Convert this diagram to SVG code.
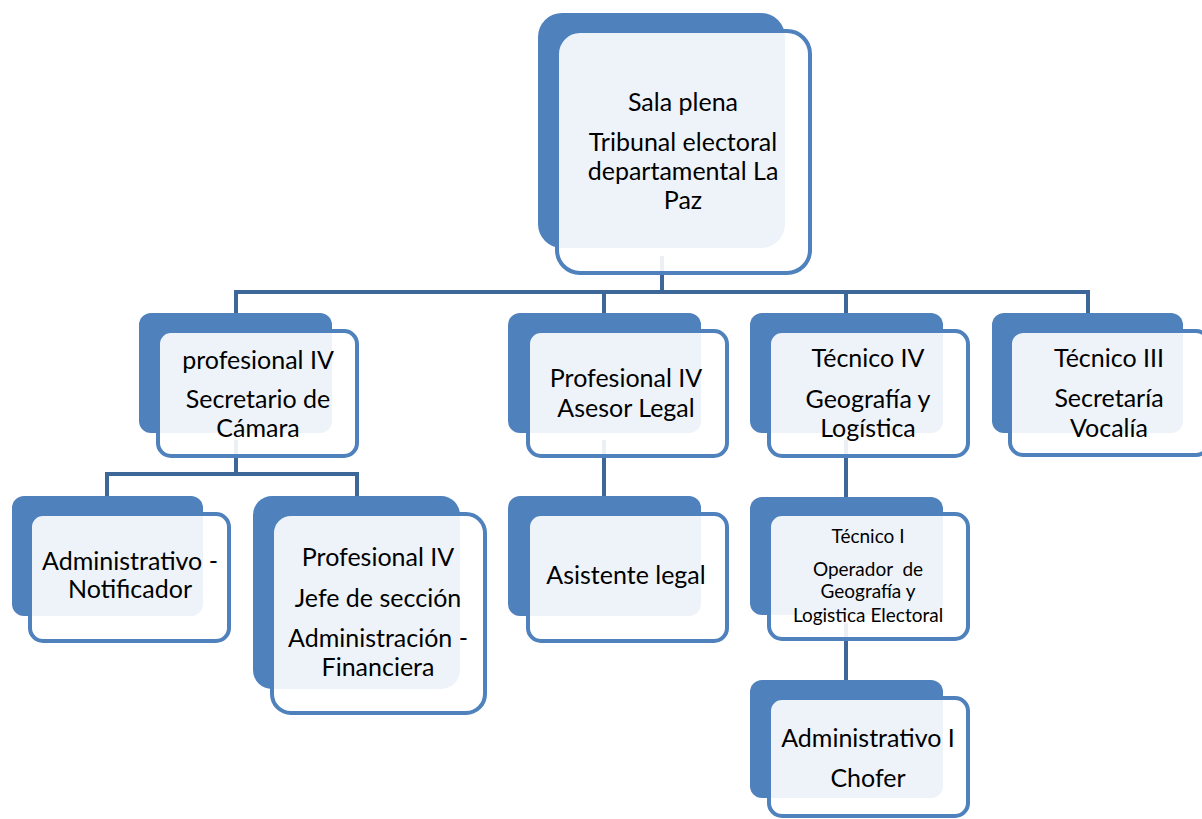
<svg xmlns="http://www.w3.org/2000/svg" width="1202" height="819" viewBox="0 0 1202 819">
<style>
.bk{fill:#4F81BD}
.fr{fill:#FFFFFF;fill-opacity:0.9;stroke:#4F81BD;stroke-width:4}
.cn{fill:none;stroke:#3E6799;stroke-width:4}
text{font-family:Lato,"Liberation Sans",sans-serif;fill:#000;text-anchor:middle}
.t{font-size:25px}
.s{font-size:19px}
</style>
<rect width="1202" height="819" fill="#FFFFFF"/>
<g id="connectors">
<path class="cn" d="M662,256 V292"/>
<path class="cn" d="M236,313 V292 H1088 V313"/>
<path class="cn" d="M604,292 V313"/>
<path class="cn" d="M846,292 V313"/>
<path class="cn" d="M236,440 V474"/>
<path class="cn" d="M107,496 V474 H357 V496"/>
<path class="cn" d="M604,440 V496"/>
<path class="cn" d="M846,440 V497"/>
<path class="cn" d="M846,623 V680"/>
</g>
<g id="n-sala">
<rect class="bk" x="538" y="13" width="247" height="235" rx="24"/>
<rect class="fr" x="557" y="31" width="253" height="242" rx="23"/>
<text class="t" x="683" y="111">Sala plena</text>
<text class="t" x="683" y="151">Tribunal electoral</text>
<text class="t" x="683" y="180">departamental La</text>
<text class="t" x="683" y="209">Paz</text>
</g>
<g id="n-secretario">
<rect class="bk" x="139" y="313" width="193" height="120" rx="12"/>
<rect class="fr" x="158" y="331" width="199" height="125" rx="13"/>
<text class="t" x="258" y="369">profesional IV</text>
<text class="t" x="258" y="408">Secretario de</text>
<text class="t" x="258" y="437">Cámara</text>
</g>
<g id="n-asesor">
<rect class="bk" x="508" y="313" width="193" height="120" rx="12"/>
<rect class="fr" x="528" y="331" width="199" height="125" rx="13"/>
<text class="t" x="626" y="387">Profesional IV</text>
<text class="t" x="626" y="417">Asesor Legal</text>
</g>
<g id="n-geografia">
<rect class="bk" x="750" y="313" width="193" height="120" rx="12"/>
<rect class="fr" x="769" y="331" width="199" height="125" rx="13"/>
<text class="t" x="868" y="367">Técnico IV</text>
<text class="t" x="868" y="408">Geografía y</text>
<text class="t" x="868" y="437">Logística</text>
</g>
<g id="n-vocalia">
<rect class="bk" x="992" y="313" width="191" height="120" rx="12"/>
<rect class="fr" x="1010" y="331" width="199" height="124" rx="13"/>
<text class="t" x="1109" y="367">Técnico III</text>
<text class="t" x="1109" y="407">Secretaría</text>
<text class="t" x="1109" y="437">Vocalía</text>
</g>
<g id="n-notificador">
<rect class="bk" x="12" y="496" width="191" height="120" rx="12"/>
<rect class="fr" x="30" y="514" width="199" height="127" rx="13"/>
<text class="t" x="130" y="570">Administrativo -</text>
<text class="t" x="130" y="598">Notificador</text>
</g>
<g id="n-jefe">
<rect class="bk" x="253" y="496" width="207" height="193" rx="19"/>
<rect class="fr" x="272" y="514" width="213" height="199" rx="19"/>
<text class="t" x="378" y="566">Profesional IV</text>
<text class="t" x="378" y="607">Jefe de sección</text>
<text class="t" x="378" y="647">Administración -</text>
<text class="t" x="378" y="676">Financiera</text>
</g>
<g id="n-asistente">
<rect class="bk" x="508" y="496" width="193" height="120" rx="12"/>
<rect class="fr" x="528" y="514" width="199" height="127" rx="13"/>
<text class="t" x="626" y="584">Asistente legal</text>
</g>
<g id="n-operador">
<rect class="bk" x="750" y="497" width="193" height="118" rx="12"/>
<rect class="fr" x="769" y="514" width="199" height="125" rx="13"/>
<text class="s" x="868" y="543">Técnico I</text>
<text class="s" x="868" y="576">Operador&#160; de</text>
<text class="s" x="868" y="598">Geografía y</text>
<text class="s" x="868" y="622">Logistica Electoral</text>
</g>
<g id="n-chofer">
<rect class="bk" x="750" y="680" width="193" height="118" rx="12"/>
<rect class="fr" x="769" y="698" width="199" height="118" rx="13"/>
<text class="t" x="868" y="747">Administrativo I</text>
<text class="t" x="868" y="787">Chofer</text>
</g>
</svg>
